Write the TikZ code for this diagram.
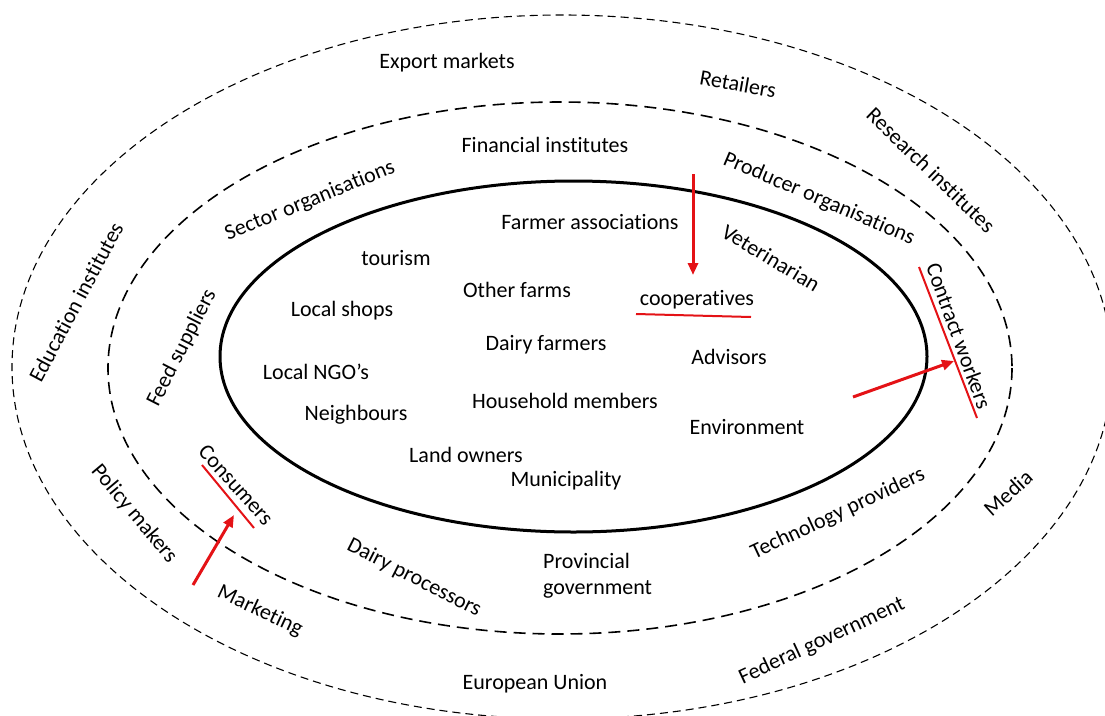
\documentclass[tikz,border=0pt]{standalone}
\usepackage{fontspec}
\setmainfont{Carlito}[Ligatures=NoCommon]
\usetikzlibrary{arrows.meta}
\definecolor{mark}{RGB}{228,18,22}
\begin{document}
\begin{tikzpicture}[x=1pt,y=-1pt,
  lbl/.style={inner sep=0pt,font=\fontsize{22}{26}\selectfont},
  ringin/.style={line width=3pt},
  ringmid/.style={line width=1.6pt,dash pattern=on 12pt off 7pt},
  ringout/.style={line width=1.1pt,dash pattern=on 8pt off 5pt},
  redarrow/.style={draw=mark,line width=3pt,-{Triangle[length=12pt,width=10pt]}},
  redbar/.style={draw=mark,line width=2pt}]
\useasboundingbox (0,0) rectangle (1105,715);
\clip (0,0) rectangle (1105,715);

% three circles of stakeholders
\draw[ringout] (562,367) ellipse [x radius=550, y radius=352];
\draw[ringmid] (560,368) ellipse [x radius=452, y radius=266];
\draw[ringin]  (573.5,356.5) ellipse [x radius=353.5, y radius=175.5];

% outer ring
\node[lbl] (export) at (447,63) {Export markets};
\node[lbl,rotate=-10] (retail) at (738,84) {Retailers};
\node[lbl,rotate=-44] (research) at (931,170) {Research institutes};
\node[lbl,rotate=62] (educ) at (76,302) {Education institutes};
\node[lbl,rotate=-50] (policy) at (134,514) {Policy makers};
\node[lbl,rotate=-25] (marketing) at (260,611) {Marketing};
\node[lbl] (eu) at (535,684) {European Union};
\node[lbl,rotate=25] (federal) at (822,641) {Federal government};
\node[lbl,rotate=42] (media) at (1008,493) {Media};

% middle ring
\node[lbl] (financial) at (545,145) {Financial institutes};
\node[lbl,rotate=-23] (producer) at (819,199) {Producer organisations};
\node[lbl,rotate=22] (sector) at (310,201) {Sector organisations};
\node[lbl,rotate=63] (feed) at (182,348) {Feed suppliers};
\node[lbl,rotate=-48] (consumers) at (236,485) {Consumers};
\node[lbl,rotate=-27] (processors) at (414,578) {Dairy processors};
\node[lbl,align=left,anchor=west] (provincial) at (543,576) {Provincial\\government};
\node[lbl,rotate=25] (technology) at (838,514) {Technology providers};
\node[lbl,rotate=-70] (contract) at (959,336) {Contract workers};

% inner circle
\node[lbl] (farmerassoc) at (590,222) {Farmer associations};
\node[lbl,rotate=-31] (vet) at (771,258) {Veterinarian};
\node[lbl] (tourism) at (396,258) {tourism};
\node[lbl] (otherfarms) at (517,290) {Other farms};
\node[lbl] (coop) at (697,300) {cooperatives};
\node[lbl] (shops) at (342,311) {Local shops};
\node[lbl] (dairy) at (546,345) {Dairy farmers};
\node[lbl] (advisors) at (729,357) {Advisors};
\node[lbl] (ngo) at (316,372) {Local NGO’s};
\node[lbl] (household) at (565,401) {Household members};
\node[lbl] (neighbours) at (356,415) {Neighbours};
\node[lbl] (environment) at (747,427) {Environment};
\node[lbl] (land) at (466,455) {Land owners};
\node[lbl] (municipality) at (566,481) {Municipality};

% red markings: moves between circles
\coordinate (coopFrom) at (693,174);
\coordinate (coopTo) at (693,275);
\coordinate (coopBarA) at (636,314);
\coordinate (coopBarB) at (751,317);
\draw[redarrow] (coopFrom) -- (coopTo);
\draw[redbar] (coopBarA) -- (coopBarB);

\coordinate (contractFrom) at (853,397);
\coordinate (contractTo) at (954,361);
\coordinate (contractBarA) at (919,267);
\coordinate (contractBarB) at (977,418);
\draw[redbar] (contractBarA) -- (contractBarB);
\draw[redarrow] (contractFrom) -- (contractTo);

\coordinate (consFrom) at (193,585);
\coordinate (consTo) at (234,515);
\coordinate (consBarA) at (202,465);
\coordinate (consBarB) at (254,528);
\draw[redbar] (consBarA) -- (consBarB);
\draw[redarrow] (consFrom) -- (consTo);
\end{tikzpicture}
\end{document}
